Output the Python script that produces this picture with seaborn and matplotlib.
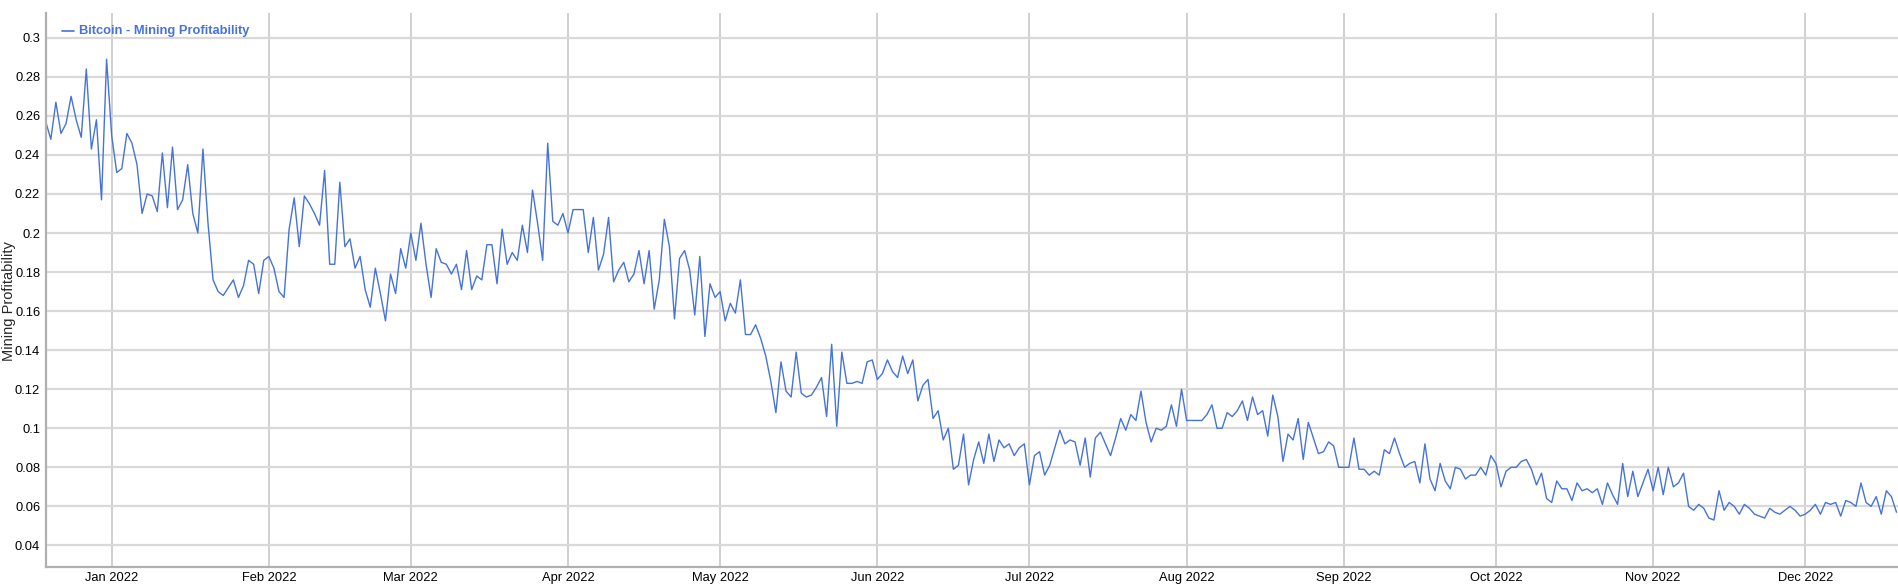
import pandas as pd
import matplotlib
matplotlib.use("Agg")
import matplotlib.pyplot as plt
import matplotlib.dates as mdates
import seaborn as sns

# daily values
dec21 = [0.257, 0.248, 0.267, 0.251, 0.256, 0.270, 0.258, 0.249, 0.284, 0.243, 0.258, 0.217, 0.289]
jan22 = [0.250, 0.231, 0.233, 0.251, 0.246, 0.235, 0.210, 0.220, 0.219, 0.211, 0.241, 0.213, 0.244,
         0.212, 0.217, 0.235, 0.210, 0.200, 0.243, 0.205, 0.176, 0.170, 0.168, 0.172, 0.176, 0.167,
         0.173, 0.186, 0.184, 0.169, 0.186]
feb22 = [0.188, 0.182, 0.170, 0.167, 0.202, 0.218, 0.193, 0.219, 0.215, 0.210, 0.204, 0.232, 0.184,
         0.184, 0.226, 0.193, 0.197, 0.182, 0.188, 0.171, 0.162, 0.182, 0.169, 0.155, 0.179, 0.169,
         0.192, 0.182]
mar22 = [0.200, 0.186, 0.205, 0.184, 0.167, 0.192, 0.185, 0.184, 0.179, 0.184, 0.171, 0.191, 0.171,
         0.178, 0.176, 0.194, 0.194, 0.174, 0.202, 0.184, 0.190, 0.186, 0.204, 0.190, 0.222, 0.205,
         0.186, 0.246, 0.206, 0.204, 0.210]
apr22 = [0.200, 0.212, 0.212, 0.212, 0.190, 0.208, 0.181, 0.189, 0.208, 0.175, 0.181, 0.185, 0.175,
         0.179, 0.191, 0.174, 0.191, 0.161, 0.176, 0.207, 0.193, 0.156, 0.187, 0.191, 0.181, 0.158,
         0.188, 0.147, 0.174, 0.167]
may22 = [0.170, 0.155, 0.164, 0.159, 0.176, 0.148, 0.148, 0.153, 0.146, 0.137, 0.124, 0.108, 0.134,
         0.119, 0.116, 0.139, 0.118, 0.116, 0.117, 0.121, 0.126, 0.106, 0.143, 0.101, 0.139, 0.123,
         0.123, 0.124, 0.123, 0.134, 0.135]
jun22 = [0.125, 0.128, 0.135, 0.129, 0.126, 0.137, 0.128, 0.135, 0.114, 0.122, 0.125, 0.105, 0.109,
         0.094, 0.100, 0.079, 0.081, 0.097, 0.071, 0.084, 0.093, 0.082, 0.097, 0.083, 0.094, 0.090,
         0.092, 0.086, 0.090, 0.092]
jul22 = [0.071, 0.086, 0.088, 0.076, 0.081, 0.090, 0.099, 0.092, 0.094, 0.093, 0.081, 0.095, 0.075,
         0.095, 0.098, 0.092, 0.086, 0.095, 0.105, 0.099, 0.107, 0.104, 0.119, 0.103, 0.093, 0.100,
         0.099, 0.101, 0.112, 0.101, 0.120]
aug22 = [0.104, 0.104, 0.104, 0.104, 0.107, 0.112, 0.100, 0.100, 0.108, 0.106, 0.109, 0.114, 0.104,
         0.116, 0.107, 0.109, 0.096, 0.117, 0.106, 0.083, 0.097, 0.094, 0.105, 0.084, 0.103, 0.095,
         0.087, 0.088, 0.093, 0.091, 0.080]
sep22 = [0.080, 0.080, 0.095, 0.079, 0.079, 0.076, 0.078, 0.076, 0.089, 0.087, 0.095, 0.087, 0.080,
         0.082, 0.083, 0.072, 0.092, 0.074, 0.068, 0.082, 0.073, 0.069, 0.080, 0.079, 0.074, 0.076,
         0.076, 0.080, 0.076, 0.086]
oct22 = [0.082, 0.070, 0.078, 0.080, 0.080, 0.083, 0.084, 0.079, 0.071, 0.077, 0.064, 0.062, 0.073,
         0.069, 0.069, 0.063, 0.072, 0.068, 0.069, 0.067, 0.069, 0.061, 0.072, 0.066, 0.061, 0.082,
         0.065, 0.078, 0.065, 0.072, 0.079]
nov22 = [0.068, 0.080, 0.066, 0.080, 0.070, 0.072, 0.077, 0.060, 0.058, 0.061, 0.059, 0.054, 0.053,
         0.068, 0.058, 0.062, 0.060, 0.056, 0.061, 0.059, 0.056, 0.055, 0.054, 0.059, 0.057, 0.056,
         0.058, 0.060, 0.058, 0.055]
dec22 = [0.056, 0.058, 0.061, 0.056, 0.062, 0.061, 0.062, 0.055, 0.063, 0.062, 0.060, 0.072, 0.062,
         0.060, 0.065, 0.056, 0.068, 0.065, 0.057]

values = dec21 + jan22 + feb22 + mar22 + apr22 + may22 + jun22 + jul22 + aug22 + sep22 + oct22 + nov22 + dec22
df = pd.DataFrame({
    "date": pd.date_range("2021-12-19", periods=len(values), freq="D"),
    "profit": values,
})

y_ticks = [0.04, 0.06, 0.08, 0.1, 0.12, 0.14, 0.16, 0.18, 0.2, 0.22, 0.24, 0.26, 0.28, 0.3]
series_name = "Bitcoin - Mining Profitability"

sns.set_style("white")
plt.rcParams["font.family"] = ["Liberation Sans", "DejaVu Sans"]

fig = plt.figure(figsize=(18.98, 5.87), dpi=100)
ax = fig.add_axes([0.0241, 0.0346, 0.9759, 0.9433])

line_color = "#4573d9"
sns.lineplot(data=df, x="date", y="profit", ax=ax, color=line_color, linewidth=1.0, legend=False)

ax.set_xlim(pd.Timestamp("2021-12-19"), pd.Timestamp("2021-12-19") + pd.Timedelta(days=365.3))
ax.set_ylim(0.0291, 0.3127)

ax.set_yticks(y_ticks)
ax.set_yticklabels([("%.2f" % t).rstrip("0").rstrip(".") for t in y_ticks])
ax.xaxis.set_major_locator(mdates.MonthLocator())
ax.xaxis.set_major_formatter(mdates.DateFormatter("%b %Y"))

ax.grid(axis="y", color="#d9d9d9", linewidth=1.6)
ax.grid(axis="x", color="#c4c4c4", linewidth=1.1)
ax.set_axisbelow(True)

for side in ["top", "right"]:
    ax.spines[side].set_visible(False)
for side in ["left", "bottom"]:
    ax.spines[side].set_color("#b0b0b0")
    ax.spines[side].set_linewidth(1.6)

ax.tick_params(axis="both", length=0, labelsize=9.3, colors="black", pad=4)
ax.set_xlabel("")
ax.set_ylabel("Mining Profitability", fontsize=10.5, labelpad=3)
ax.yaxis.set_label_coords(-0.0163, 0.48)

# legend drawn as a short line plus label at the top left
ax.plot([0.0087, 0.015], [0.967, 0.967], transform=ax.transAxes, color=line_color, linewidth=1.2)
ax.text(0.0178, 0.967, series_name, transform=ax.transAxes, color=line_color,
        fontsize=9.3, fontweight="bold", va="center", ha="left")

fig.savefig("out.png", dpi=100)
